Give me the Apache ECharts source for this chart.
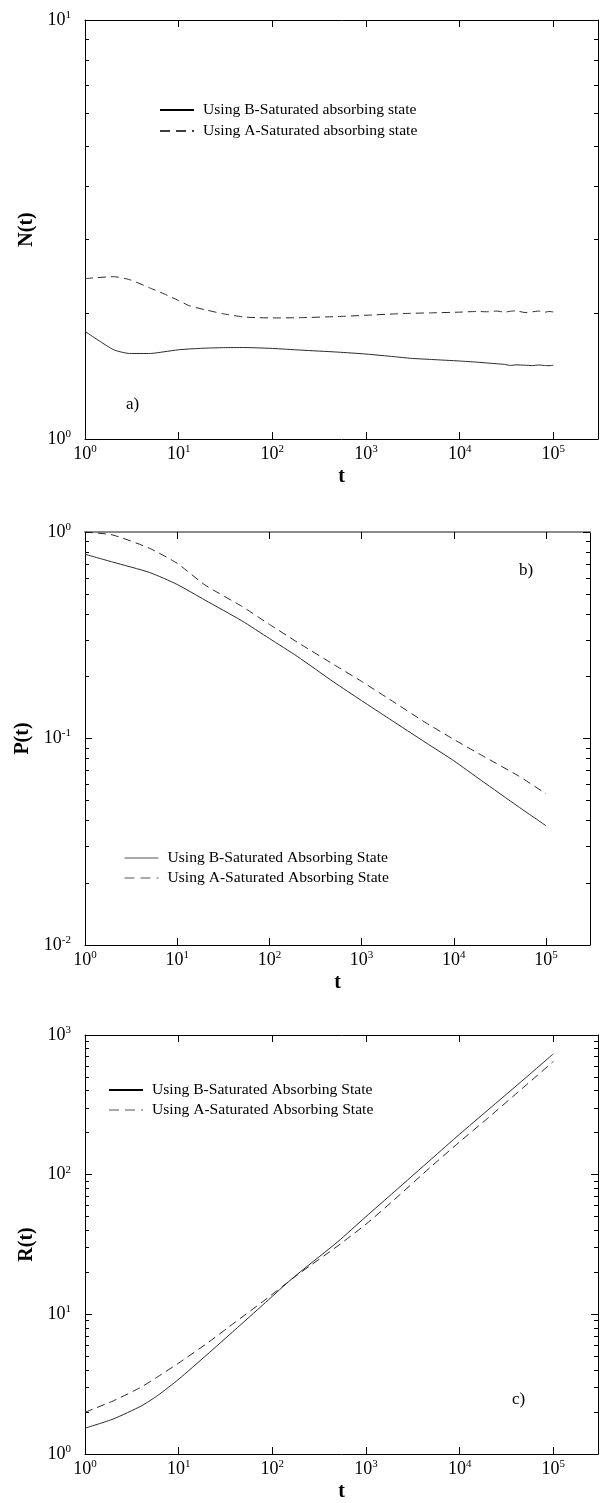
<!DOCTYPE html>
<html>
<head>
<meta charset="utf-8">
<script src="https://cdn.jsdelivr.net/npm/echarts@6/dist/echarts.min.js"></script>
<style>
  html, body { margin: 0; padding: 0; background: #fff; }
  #chart { width: 600px; height: 1503px; }
</style>
</head>
<body>
<div id="chart"></div>
<script>
// ---- data ----------------------------------------------------------------
// a) N(t)
const tA = [1, 2, 3, 5, 7, 10, 13, 20, 30, 50, 70, 100, 200, 500, 1000, 2000, 3000, 5000,
            10000, 15000, 20000, 25000, 30000, 35000, 40000, 50000, 60000, 70000, 80000, 90000, 100000];
const nB = [1.807, 1.635, 1.600, 1.600, 1.615, 1.633, 1.640, 1.648, 1.652, 1.653, 1.650, 1.645, 1.630, 1.612,
            1.595, 1.572, 1.558, 1.548, 1.535, 1.526, 1.518, 1.512, 1.507, 1.498, 1.503, 1.500, 1.497,
            1.502, 1.498, 1.496, 1.500];
const nA = [2.414, 2.440, 2.400, 2.290, 2.220, 2.140, 2.080, 2.030, 1.990, 1.955, 1.948, 1.945, 1.948, 1.960,
            1.974, 1.988, 1.995, 2.000, 2.008, 2.015, 2.012, 2.020, 2.008, 2.018, 2.022, 2.004, 2.012,
            2.020, 2.006, 2.015, 2.010];

// b) P(t)
const tB = [1, 2, 5, 10, 20, 50, 100, 200, 500, 1000, 2000, 5000, 10000, 20000, 50000, 100000];
const pB = [0.78, 0.715, 0.637, 0.557, 0.468, 0.372, 0.305, 0.25, 0.1875, 0.1525, 0.1245, 0.0953,
            0.078, 0.0625, 0.0468, 0.0378];
const pA = [1.0, 0.967, 0.834, 0.705, 0.554, 0.437, 0.357, 0.293, 0.228, 0.189, 0.155, 0.119,
            0.099, 0.083, 0.066, 0.054];

// c) R(t)
const tC = [1, 2, 4, 6, 10, 20, 40, 80, 150, 200, 500, 1000, 2000, 5000, 10000, 20000, 50000, 100000];
const rB = [1.53, 1.78, 2.21, 2.63, 3.43, 5.13, 7.76, 11.75, 17.2, 20.2, 33.1, 50.1, 75.3, 129.5, 195, 290, 490, 733];
const rA = [1.99, 2.40, 3.02, 3.58, 4.48, 6.19, 8.77, 12.4, 17.2, 19.9, 30.9, 44.2, 66.1, 114.8, 171.8, 254, 431.5, 646];

// axis decades
const xDecades = [1, 10, 100, 1000, 10000, 100000];
const yDecadesA = [1, 10];
const yDecadesB = [0.01, 0.1, 1];
const yDecadesC = [1, 10, 100, 1000];

// legend texts
const legendA = ['Using B-Saturated absorbing state', 'Using A-Saturated absorbing state'];
const legendBC = ['Using B-Saturated Absorbing State', 'Using A-Saturated Absorbing State'];

// ---- helpers -------------------------------------------------------------
const FONT = '"Liberation Serif", "Times New Roman", serif';
const INK = '#000';
const LINE = '#2a2a2a';

function pair(xs, ys) { return xs.map((x, i) => [x, ys[i]]); }

// minor log ticks (2..9 of every decade) between lo and hi
function minorTicks(lo, hi) {
  const out = [];
  for (let d = lo; d < hi * 0.999; d *= 10) {
    for (let k = 2; k <= 9; k++) out.push(+(d * k).toPrecision(6));
  }
  return out;
}

function powLabel(v) {
  const e = Math.round(Math.log10(v));
  return '{b|10}{s|' + e + '}';
}

const labelRich = {
  b: { fontFamily: FONT, fontSize: 18, color: INK },
  s: { fontFamily: FONT, fontSize: 11, color: INK, padding: [0, 0, 10, 0] }
};

function xAxes(grid, xmax, topLine) {
  const base = { type: 'log', logBase: 10, gridIndex: grid, min: 1, max: xmax,
                 splitLine: { show: false }, minorTick: { show: false } };
  return [
    Object.assign({}, base, {
      position: 'bottom',
      name: 't', nameLocation: 'middle', nameGap: 28,
      nameTextStyle: { fontFamily: FONT, fontSize: 20, fontWeight: 'bold', color: INK },
      axisLine: { show: true, lineStyle: { color: INK, width: 1 } },
      axisTick: { show: true, inside: true, length: 7, customValues: xDecades, lineStyle: { color: INK } },
      axisLabel: { show: true, margin: 5, customValues: xDecades, formatter: powLabel, rich: labelRich }
    }),
    Object.assign({}, base, {
      position: 'top',
      axisLine: { show: true, lineStyle: topLine },
      axisTick: { show: true, inside: true, length: 7, customValues: xDecades, lineStyle: { color: INK } },
      axisLabel: { show: false }
    })
  ];
}

function yAxes(grid, lo, hi, decades, name, gap) {
  const base = { type: 'log', logBase: 10, gridIndex: grid, min: lo, max: hi,
                 splitLine: { show: false }, minorTick: { show: false } };
  const minors = minorTicks(lo, hi);
  return [
    Object.assign({}, base, {
      position: 'left', name: name, nameLocation: 'middle', nameGap: gap, nameRotate: 90,
      nameTextStyle: { fontFamily: FONT, fontSize: 20, fontWeight: 'bold', color: INK },
      axisLine: { show: true, lineStyle: { color: INK, width: 1 } },
      axisTick: { show: true, inside: true, length: 7, customValues: decades, lineStyle: { color: INK } },
      axisLabel: { show: true, margin: 14, customValues: decades, formatter: powLabel, rich: labelRich }
    }),
    Object.assign({}, base, {
      position: 'left',
      axisLine: { show: false },
      axisTick: { show: true, inside: true, length: 4, customValues: minors, lineStyle: { color: INK } },
      axisLabel: { show: false }
    }),
    Object.assign({}, base, {
      position: 'right',
      axisLine: { show: true, lineStyle: { color: INK, width: 1 } },
      axisTick: { show: true, inside: true, length: 7, customValues: decades, lineStyle: { color: INK } },
      axisLabel: { show: false }
    }),
    Object.assign({}, base, {
      position: 'right',
      axisLine: { show: false },
      axisTick: { show: true, inside: true, length: 4, customValues: minors, lineStyle: { color: INK } },
      axisLabel: { show: false }
    })
  ];
}

function lineSeries(name, data, grid, dashed) {
  return {
    type: 'line', name: name, data: data,
    xAxisIndex: grid * 2, yAxisIndex: grid * 4,
    showSymbol: false, symbol: 'none', smooth: 0.2, silent: true,
    itemStyle: { color: LINE },
    lineStyle: { color: LINE, width: 1, type: dashed ? [8, 5] : 'solid' }
  };
}

const legendText = { fontFamily: FONT, fontSize: 15.6, color: INK, padding: [0, 0, 0, 4] };
const noMarker = { opacity: 0, borderWidth: 0 };

const option = {
  animation: false,
  backgroundColor: '#fff',
  grid: [
    { left: 85, top: 20, width: 513, height: 419 },
    { left: 85, top: 532, width: 505, height: 413 },
    { left: 85, top: 1035, width: 513, height: 420 }
  ],
  xAxis: [].concat(xAxes(0, 300000, { color: INK, width: 1 }),
                   xAxes(1, 300000, { color: '#8a8a8a', width: 2 }),
                   xAxes(2, 300000, { color: INK, width: 1 })),
  yAxis: [].concat(yAxes(0, 1, 10, yDecadesA, 'N(t)', 39),
                   yAxes(1, 0.01, 1, yDecadesB, 'P(t)', 42),
                   yAxes(2, 1, 1000, yDecadesC, 'R(t)', 40)),
  legend: [
    { orient: 'vertical', left: 159, top: 102, padding: 0, itemWidth: 34, itemHeight: 12, itemGap: 5,
      textStyle: legendText, selectedMode: false, itemStyle: noMarker,
      data: [
        { name: legendA[0], lineStyle: { color: INK, width: 2, type: 'solid' } },
        { name: legendA[1], lineStyle: { color: INK, width: 1.5, type: [10, 6] } }
      ] },
    { orient: 'vertical', left: 124, top: 850, padding: 0, itemWidth: 34, itemHeight: 12, itemGap: 4,
      textStyle: legendText, selectedMode: false, itemStyle: noMarker,
      data: [
        { name: legendBC[0], lineStyle: { color: '#555', width: 1, type: 'solid' } },
        { name: legendBC[1], lineStyle: { color: '#555', width: 1, type: [10, 6] } }
      ] },
    { orient: 'vertical', left: 108, top: 1082, padding: 0, itemWidth: 34, itemHeight: 12, itemGap: 4,
      textStyle: legendText, selectedMode: false, itemStyle: noMarker,
      data: [
        { name: legendBC[0], lineStyle: { color: INK, width: 2, type: 'solid' } },
        { name: legendBC[1], lineStyle: { color: '#555', width: 1, type: [10, 6] } }
      ] }
  ],
  graphic: [
    { type: 'text', left: 126, top: 396, style: { text: 'a)', font: '17px ' + FONT, fill: INK } },
    { type: 'text', left: 519, top: 562, style: { text: 'b)', font: '17px ' + FONT, fill: INK } },
    { type: 'text', left: 512, top: 1391, style: { text: 'c)', font: '17px ' + FONT, fill: INK } }
  ],
  series: [
    lineSeries(legendA[0], pair(tA, nB), 0, false),
    lineSeries(legendA[1], pair(tA, nA), 0, true),
    lineSeries(legendBC[0], pair(tB, pB), 1, false),
    lineSeries(legendBC[1], pair(tB, pA), 1, true),
    lineSeries(legendBC[0], pair(tC, rB), 2, false),
    lineSeries(legendBC[1], pair(tC, rA), 2, true)
  ]
};

const chart = echarts.init(document.getElementById('chart'), null, { renderer: 'canvas' });
chart.setOption(option);
</script>
</body>
</html>
